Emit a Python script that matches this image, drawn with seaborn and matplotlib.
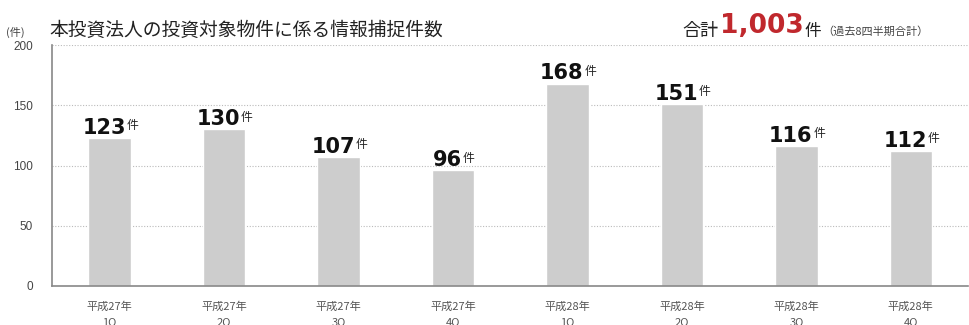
import matplotlib
matplotlib.use("Agg")
import numpy as np
import pandas as pd
import seaborn as sns
from matplotlib import pyplot as plt

# データ
quarters = ['平成27年\n1Q', '平成27年\n2Q', '平成27年\n3Q', '平成27年\n4Q',
            '平成28年\n1Q', '平成28年\n2Q', '平成28年\n3Q', '平成28年\n4Q']
counts = [123, 130, 107, 96, 168, 151, 116, 112]
y_ticks = [0, 50, 100, 150, 200]
total_label = '1,003'

sns.set_style('white')
plt.rcParams['font.family'] = ['Noto Sans CJK JP', 'DejaVu Sans']

data = pd.DataFrame({'quarter': quarters, 'count': counts})

fig = plt.figure(figsize=(9.7, 3.25), dpi=100)
ax = fig.add_axes([0.054, 0.12, 0.944, 0.7415])

sns.barplot(data=data, x='quarter', y='count', color='#cdcdcd',
            saturation=1, width=0.37, ax=ax)

ax.set_ylim(0, 200)
ax.set_xlim(-0.5, len(quarters) - 0.5)
ax.set_yticks(y_ticks)
ax.set_yticklabels([str(v) for v in y_ticks], fontsize=8.5, color='#444444',
                   family=['Liberation Sans'])
ax.tick_params(axis='y', length=0, pad=14)
ax.tick_params(axis='x', length=0, labelsize=8, labelcolor='#555555', pad=11)
for lbl in ax.get_xticklabels():
    lbl.set_linespacing(1.6)
ax.set_xlabel('')
ax.set_ylabel('')

# 点線グリッド
for v in y_ticks[1:]:
    ax.axhline(v, color='#bbbbbb', lw=0.8, ls=(0, (1, 1.5)), zorder=0)

for s in ['top', 'right']:
    ax.spines[s].set_visible(False)
ax.spines['left'].set_color('#888888')
ax.spines['bottom'].set_color('#888888')
ax.spines['left'].set_linewidth(1.2)
ax.spines['bottom'].set_linewidth(1.2)

# 棒の上の数値
for i, c in enumerate(counts):
    t = ax.annotate(str(c), xy=(i, c), xytext=(-4, 3), textcoords='offset points',
                    ha='center', va='baseline', fontsize=15, fontweight='bold',
                    family=['DejaVu Sans'], color='#111111')
    ax.annotate('件', xy=(1, 1), xycoords=t, xytext=(0.5, -1),
                textcoords='offset points', ha='left', va='top',
                fontsize=8.5, color='#222222')

# タイトル
fig.text(0.006, 0.889, '(件)', fontsize=8, color='#444444', va='baseline')
fig.text(0.051, 0.889, '本投資法人の投資対象物件に係る情報捕捉件数', fontsize=13.5,
         color='#222222', va='baseline')

# 合計
t1 = fig.text(0.704, 0.889, '合計', fontsize=13, color='#222222', va='baseline')
t2 = plt.annotate(total_label, xy=(1, 0), xycoords=t1, xytext=(1, 0.5),
                  textcoords='offset points', ha='left', va='bottom',
                  fontsize=19, fontweight='bold', color='#c0282d',
                  family=['DejaVu Sans'], annotation_clip=False)
t3 = plt.annotate('件', xy=(1, 0), xycoords=t2, xytext=(0.5, -0.5),
                  textcoords='offset points', ha='left', va='bottom',
                  fontsize=12, color='#222222', annotation_clip=False)
plt.annotate('（過去8四半期合計）', xy=(1, 0), xycoords=t3, xytext=(1, 2),
             textcoords='offset points', ha='left', va='bottom',
             fontsize=8, color='#444444', annotation_clip=False)

fig.savefig('out.png', dpi=100)
